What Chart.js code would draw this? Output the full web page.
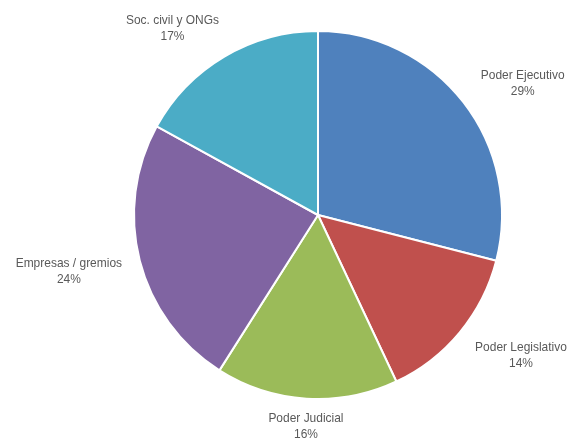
<!DOCTYPE html>
<html>
<head>
<meta charset="utf-8">
<script src="https://cdn.jsdelivr.net/npm/chart.js@4/dist/chart.umd.min.js"></script>
<style>
  html, body { margin: 0; padding: 0; background: #fff; }
  #wrap { width: 573px; height: 441px; }
</style>
</head>
<body>
<div id="wrap"><canvas id="pieChart"></canvas></div>
<script>
const categories = ['Poder Ejecutivo', 'Poder Legislativo', 'Poder Judicial', 'Empresas / gremios', 'Soc. civil y ONGs'];
const shares = [29, 14, 16, 24, 17];
const sliceColors = ['#4f81bd', '#c0504d', '#9bbb59', '#8064a2', '#4bacc6'];

// draws "name / NN%" outside each slice, pushed out along the slice's mid angle
const outsideLabels = {
    id: 'outsideLabels',
    afterDatasetsDraw(chart, args, opts) {
        const ctx = chart.ctx;
        const meta = chart.getDatasetMeta(0);
        const nudge = opts.nudge || [];
        ctx.save();
        ctx.font = '13px "Liberation Sans", Arial, sans-serif';
        ctx.fillStyle = '#595959';
        ctx.textAlign = 'center';
        ctx.textBaseline = 'middle';
        meta.data.forEach((arc, i) => {
            const mid = (arc.startAngle + arc.endAngle) / 2;
            const lines = [categories[i], shares[i] + '%'];
            const w = Math.max(...lines.map(l => ctx.measureText(l).width)) * 0.92;
            const h = 32;
            const d = arc.outerRadius + 18;
            const n = nudge[i] || [0, 0];
            const x = arc.x + Math.cos(mid) * d + Math.cos(mid) * w / 2 + n[0];
            const y = arc.y + Math.sin(mid) * d + Math.sin(mid) * h / 2 + n[1];
            ctx.save();
            ctx.translate(x, y);
            ctx.scale(0.92, 1);
            ctx.fillText(lines[0], 0, -8);
            ctx.fillText(lines[1], 0, 8);
            ctx.restore();
        });
        ctx.restore();
    }
};

new Chart(document.getElementById('pieChart').getContext('2d'), {
    type: 'pie',
    data: {
        labels: categories,
        datasets: [{
            data: shares,
            backgroundColor: sliceColors,
            borderColor: '#ffffff',
            borderWidth: 2
        }]
    },
    options: {
        responsive: true,
        maintainAspectRatio: false,
        animation: false,
        layout: {
            padding: { top: 30, bottom: 41, left: 133, right: 70 }
        },
        plugins: {
            legend: { display: false },
            tooltip: { enabled: false },
            outsideLabels: {
                nudge: [[12, 2], [12, 1], [3, -6], [-2, 2], [-19, 1]]
            }
        }
    },
    plugins: [outsideLabels]
});
</script>
</body>
</html>
